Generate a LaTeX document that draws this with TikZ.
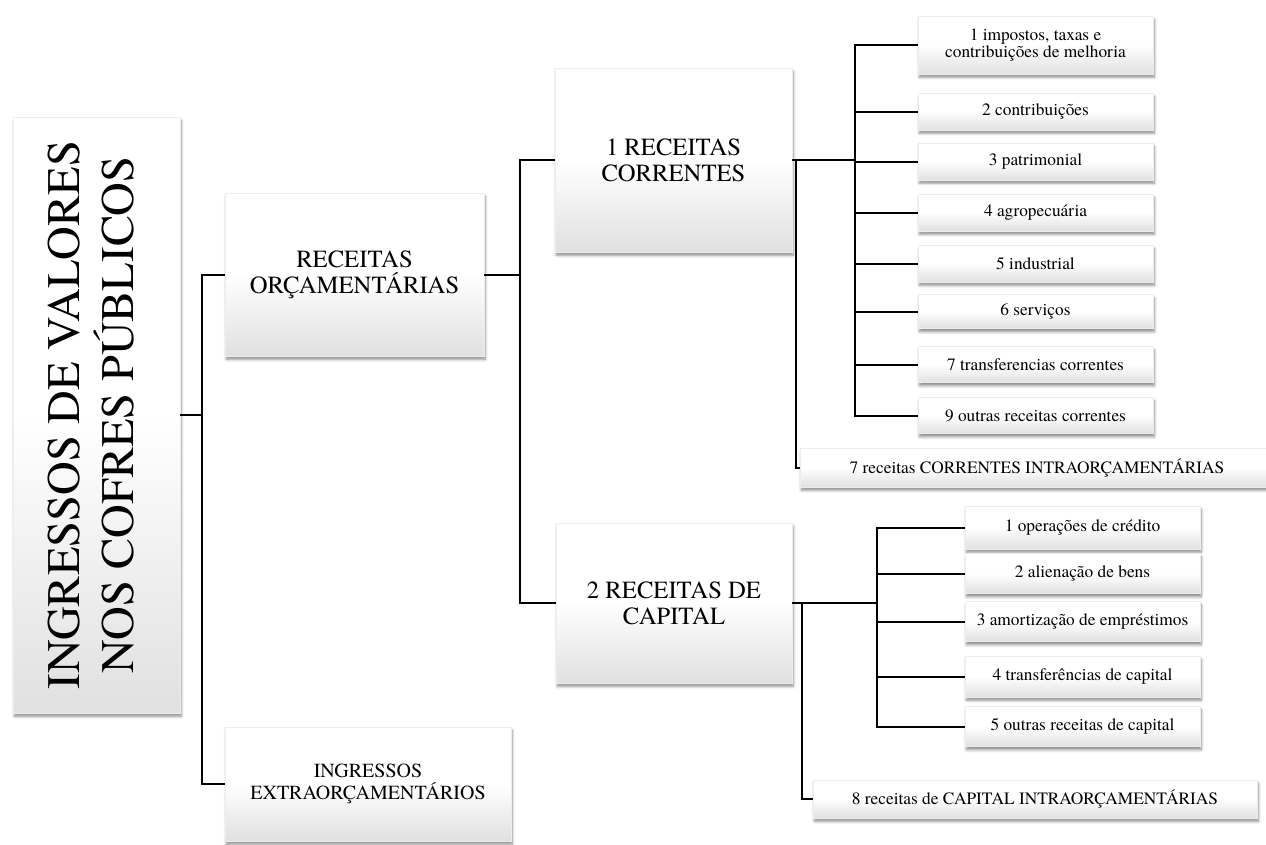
\documentclass[tikz,border=0pt]{standalone}
\usepackage{fontspec}
\setmainfont{texgyretermes}[Extension=.otf, UprightFont=*-regular,
  BoldFont=*-bold, ItalicFont=*-italic, BoldItalicFont=*-bolditalic]
\usetikzlibrary{shadows.blur}

\begin{document}
\begin{tikzpicture}[x=.75pt,y=-.75pt,
  box/.style={inner sep=0pt, align=center, draw=black!7, line width=.3pt,
    top color=white, bottom color=black!12, middle color=white,
    blur shadow={shadow xshift=1pt, shadow yshift=-2.5pt,
      shadow blur radius=2pt, shadow opacity=45}},
  sz/.style 2 args={minimum width=#1*.75pt, minimum height=#2*.75pt},
  big/.style={box, font=\fontsize{18.5}{19.5}\selectfont},
  mid/.style={box, font=\fontsize{15}{16}\selectfont},
  small/.style={box, font=\fontsize{13}{14}\selectfont},
  conn/.style={line width=1.5pt}]
\useasboundingbox (0,0) rectangle (1266,844);
\clip (0,0) rectangle (1266,844);

% root
\node[box, sz={167}{596}, font=\fontsize{35}{37}\selectfont] (ing) at (96.5,415)
  {\rotatebox{90}{\begin{tabular}{@{}c@{}}INGRESSOS DE VALORES\\NOS COFRES PÚBLICOS\end{tabular}}};

% second level
\node[big, sz={259}{163}] (ro) at (354.5,274.5) {RECEITAS\\ORÇAMENTÁRIAS};
\node[mid, sz={286}{114}] (ext) at (368,784) {INGRESSOS\\EXTRAORÇAMENTÁRIOS};

% categories
\node[big, sz={237}{184}] (rc) at (673.5,160) {1 RECEITAS\\CORRENTES};
\node[big, sz={236}{160}] (rk) at (674,603) {2 RECEITAS DE\\CAPITAL};

% correntes
\node[small, sz={235}{58}, font=\fontsize{13}{12.5}\selectfont] (c1) at (1035.5,45)
  {1 impostos, taxas e\\contribuições de melhoria};
\node[small, sz={235}{37}] (c2) at (1035.5,111.5) {2 contribuições};
\node[small, sz={235}{37}] (c3) at (1035.5,161.5) {3 patrimonial};
\node[small, sz={235}{37}] (c4) at (1035.5,212.5) {4 agropecuária};
\node[small, sz={235}{37}] (c5) at (1035.5,263.5) {5 industrial};
\node[small, sz={235}{34}] (c6) at (1035.5,311.5) {6 serviços};
\node[small, sz={235}{36}] (c7) at (1035.5,364.5) {7 transferencias correntes};
\node[small, sz={235}{36}] (c9) at (1035.5,415.5) {9 outras receitas correntes};
\node[small, sz={474}{39}] (ci) at (1037,467.5) {7 receitas CORRENTES INTRAORÇAMENTÁRIAS};

% capital
\node[small, sz={235}{43}] (k1) at (1082.5,527.5) {1 operações de crédito};
\node[small, sz={235}{40}] (k2) at (1082.5,573.5) {2 alienação de bens};
\node[small, sz={235}{40}] (k3) at (1082.5,621.5) {3 amortização de empréstimos};
\node[small, sz={235}{41}] (k4) at (1082.5,676.5) {4 transferências de capital};
\node[small, sz={235}{40}] (k5) at (1082.5,726.5) {5 outras receitas de capital};
\node[small, sz={444}{38}] (ki) at (1035,799) {8 receitas de CAPITAL INTRAORÇAMENTÁRIAS};

% elbows
\coordinate (j0) at (202,415);
\coordinate (j1) at (520,274.5);
\coordinate (j2) at (855,160);
\coordinate (j3) at (796,160);
\coordinate (j4) at (877,603);
\coordinate (j5) at (802,603);

\draw[conn] (ing.east) -- (j0);
\draw[conn] (j0) |- (ro.west);
\draw[conn] (j0) |- (ext.west);
\draw[conn] (ro.east) -- (j1);
\draw[conn] (j1) |- (rc.west);
\draw[conn] (j1) |- (rk.west);
\draw[conn] (rc.east) -- (j2);
\foreach \n in {c1,c2,c3,c4,c5,c6,c7,c9}
  \draw[conn] (j2) |- (\n.west);
\draw[conn] (j3) |- (ci.west);
\draw[conn] (rk.east) -- (j4);
\foreach \n in {1,...,5}
  \draw[conn] (j4) |- (k\n.west);
\draw[conn] (j5) |- (ki.west);
\end{tikzpicture}
\end{document}
